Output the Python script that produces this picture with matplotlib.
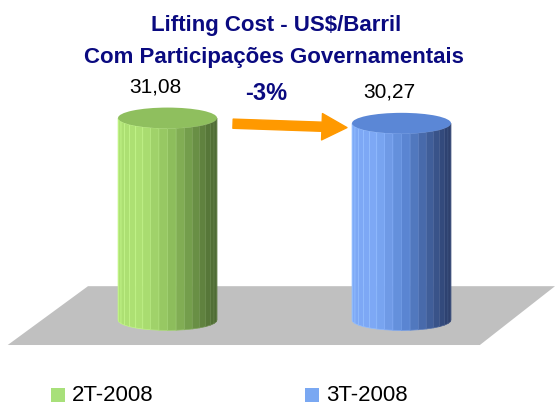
import numpy as np
import matplotlib
matplotlib.use("Agg")
import matplotlib.pyplot as plt
from matplotlib.patches import Polygon, Ellipse, Rectangle

plt.rcParams['font.family'] = ['Liberation Sans', 'DejaVu Sans']

# Data
categories = ["2T-2008", "3T-2008"]
values = [31.08, 30.27]
labels = ["31,08", "30,27"]
change_label = "-3%"
title_lines = ["Lifting Cost - US$/Barril", "Com Participações Governamentais"]

# Colours: (light, mid, dark) for the cylinder facets, top cap, legend
shades = [
    [(0.68, 0.88, 0.45), (0.55, 0.74, 0.36), (0.29, 0.40, 0.19)],
    [(0.49, 0.66, 0.96), (0.35, 0.52, 0.82), (0.16, 0.23, 0.40)],
]
cap_colors = ["#8fbf5e", "#5b87d6"]
legend_colors = ["#a8e07a", "#7aa8f2"]

navy = "#0a0a80"

fig = plt.figure(figsize=(5.55, 4.05), dpi=100)
ax = fig.add_axes([0, 0, 1, 1])
ax.set_xlim(-0.716, 1.656)
ax.set_ylim(-13.08, 49.23)
ax.axis("off")

pos = np.arange(len(values))
r = 0.2115      # cylinder half width (x units)
b = 1.6         # ellipse half height (value units)

# Floor
ax.add_patch(Polygon([(-0.683, -3.85), (1.335, -3.85), (1.656, 5.2), (-0.34, 5.2)],
                     closed=True, facecolor="#c0c0c0", edgecolor="none", zorder=1))

# Cylinders
n = 18
for i, (x0, v) in enumerate(zip(pos, values)):
    light, mid, dark = [np.array(c) for c in shades[i]]
    th = np.linspace(np.pi, 0, n + 1)
    for k in range(n):
        t0, t1 = th[k], th[k + 1]
        tm = (1 + np.cos((t0 + t1) / 2)) / 2
        if tm < 0.25:
            col = light
        elif tm < 0.55:
            col = light + (mid - light) * (tm - 0.25) / 0.30
        else:
            col = mid + (dark - mid) * (tm - 0.55) / 0.45
        xs = [x0 + r * np.cos(t0), x0 + r * np.cos(t1)]
        poly = [(xs[0], -b * np.sin(t0)), (xs[1], -b * np.sin(t1)),
                (xs[1], v - b * np.sin(t1)), (xs[0], v - b * np.sin(t0))]
        edge = np.clip(col + 0.08, 0, 1)
        ax.add_patch(Polygon(poly, closed=True, facecolor=col, edgecolor=edge,
                             linewidth=0.5, zorder=2))
    ax.add_patch(Ellipse((x0, v), 2 * r, 2 * b, facecolor=cap_colors[i],
                         edgecolor="none", zorder=3))
    ax.text(x0 - 0.05, v + 4.8, labels[i], ha="center", va="center",
            fontsize=15, color="black")

# Change arrow
ax.annotate("", xy=(0.767, 29.6), xytext=(0.28, 30.2),
            arrowprops=dict(arrowstyle="simple,head_length=0.9,head_width=0.95,tail_width=0.33",
                            color="#ff9900", mutation_scale=20, shrinkA=0, shrinkB=0),
            zorder=4)
ax.text(0.421, 34.8, change_label, ha="center", va="center", fontsize=17,
        fontweight="bold", color=navy)

# Title
fig.text(0.498, 1 - 26 / 405, title_lines[0], ha="center", va="center",
         fontsize=16, fontweight="bold", color=navy)
fig.text(0.494, 1 - 58 / 405, title_lines[1], ha="center", va="center",
         fontsize=16, fontweight="bold", color=navy)

# Legend
for i, name in enumerate(categories):
    lx = [51, 305][i] / 555
    fig.patches.append(Rectangle((lx, 3 / 405), 14 / 555, 14 / 405, transform=fig.transFigure,
                                 facecolor=legend_colors[i], edgecolor="none"))
    fig.text(lx + 21 / 555, 4 / 405, name, ha="left", va="baseline", fontsize=16,
             color="black")

plt.savefig("out.png", dpi=100)
